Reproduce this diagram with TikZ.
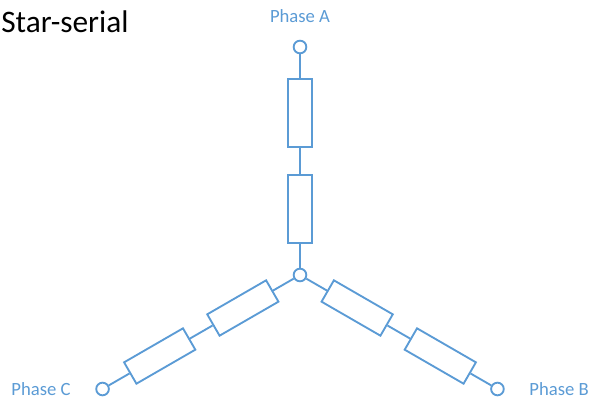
\documentclass[tikz,border=0pt]{standalone}
\usepackage{fontspec}
\setmainfont{Carlito}
\usetikzlibrary{positioning}
\definecolor{phaseblue}{HTML}{5B9BD5}

\begin{document}
\begin{tikzpicture}[%
            x=0.75pt, y=0.75pt,
            node distance=16pt,
            wire/.style={draw=phaseblue, line width=1.4pt},
            res/.style={wire, rectangle, minimum width=51pt, minimum height=18.5pt, inner sep=0pt},
            term/.style={wire, circle, minimum size=9.5pt, inner sep=0pt, fill=white},
            phase/.style={text=phaseblue, font=\fontsize{14}{16}\selectfont}
            ]
            \useasboundingbox (-300,-126) rectangle (291,275);
            \node[anchor=base west, inner sep=0pt, font=\fontsize{23.5}{27}\selectfont] (title) at (-299,243) {Star-serial};

            \node[term] (0) at (0,0) {};

            % phase A
            \node[term] (A) at (90:228) {};
            \node[res, rotate=90] (A1) at (90:162) {};
            \node[res, rotate=90] (A2) at (90:66) {};
            \node[phase, above=9pt of A] (lA) {Phase A};

            % phase B
            \node[term] (B) at (-30:228) {};
            \node[res, rotate=-30] (B1) at (-30:162) {};
            \node[res, rotate=-30] (B2) at (-30:66) {};
            \node[phase, right=15pt of B] (lB) {Phase B};

            % phase C
            \node[term] (C) at (210:228) {};
            \node[res, rotate=30] (C1) at (210:162) {};
            \node[res, rotate=30] (C2) at (210:66) {};
            \node[phase, left=15pt of C] (lC) {Phase C};

            \draw[wire] (A) -- (A1) -- (A2) -- (0);
            \draw[wire] (B) -- (B1) -- (B2) -- (0);
            \draw[wire] (C) -- (C1) -- (C2) -- (0);

        \end{tikzpicture}
\end{document}
